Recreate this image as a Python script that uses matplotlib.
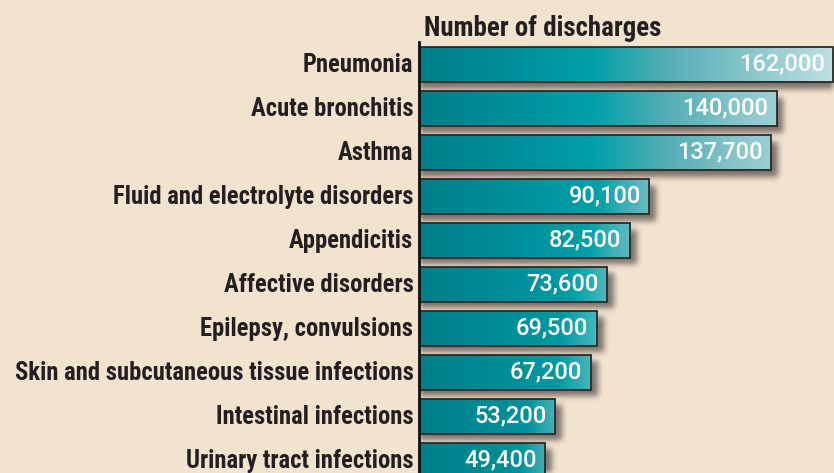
import numpy as np
import matplotlib
matplotlib.use("Agg")
import matplotlib.pyplot as plt
import matplotlib.transforms as mtransforms
from matplotlib import font_manager
from matplotlib.colors import LinearSegmentedColormap, Normalize, to_rgb
from matplotlib.patches import Rectangle

# data
conditions = ['Pneumonia', 'Acute bronchitis', 'Asthma', 'Fluid and electrolyte disorders',
              'Appendicitis', 'Affective disorders', 'Epilepsy, convulsions',
              'Skin and subcutaneous tissue infections', 'Intestinal infections',
              'Urinary tract infections']
discharges = [162000, 140000, 137700, 90100, 82500, 73600, 69500, 67200, 53200, 49400]
axis_title = 'Number of discharges'

W, H = 834, 473
bg = '#f2e3cf'
ink = '#231f20'

# pick a condensed bold face that is installed
names = {f.name for f in font_manager.fontManager.ttflist}
cond = 'DejaVu Sans'
for cand in ['Roboto Condensed', 'Archivo Narrow', 'PT Sans Narrow', 'Liberation Sans Narrow',
             'Barlow Semi Condensed', 'Barlow Condensed', 'Saira SemiCondensed']:
    if cand in names:
        cond = cand
        break
cond_font = [cond, 'DejaVu Sans']

fig = plt.figure(figsize=(W / 100, H / 100), dpi=100, facecolor=bg)
# axes placed in pixels: value 0 at x=419, 162000 at x=833
x0, x1 = 419, W
ax = fig.add_axes([x0 / W, 0, (x1 - x0) / W, 1])
ax.set_facecolor(bg)
px_per_val = (833 - 419) / 162000
xmax = (x1 - x0) / px_per_val
row_px = 44.0
first_px = 64.0
ax.set_xlim(0, xmax)
ax.set_ylim((H - first_px) / row_px, -first_px / row_px)

bar_h = 35 / row_px
ypos = np.arange(len(conditions))

# blurred drop shadow
gx = np.linspace(0, xmax, x1 - x0)
gy = np.linspace(-first_px / row_px, (H - first_px) / row_px, H)
XX, YY = np.meshgrid(gx, gy)
mask = np.zeros_like(XX)
dx = 7 / px_per_val
dy = 7 / row_px
for y, v in zip(ypos, discharges):
    mask[(XX >= 0) & (XX <= v + dx) & (YY >= y - bar_h / 2 + dy) & (YY <= y + bar_h / 2 + dy)] = 1.0
k = np.ones(7) / 7
for _ in range(2):
    mask = np.apply_along_axis(lambda r: np.convolve(r, k, mode='same'), 1, mask)
    mask = np.apply_along_axis(lambda c: np.convolve(c, k, mode='same'), 0, mask)
shadow = np.zeros(mask.shape + (4,))
shadow[..., :3] = np.array([118, 108, 100]) / 255
shadow[..., 3] = mask * 0.95
ax.imshow(shadow, extent=(0, xmax, gy[-1], gy[0]), aspect='auto', zorder=1,
          interpolation='bilinear')

cmap = LinearSegmentedColormap.from_list('teal', [
    (0.0, '#007f8a'), (0.25, '#00919c'), (0.42, '#00a0a8'),
    (0.6, '#55aeb6'), (0.8, '#88c5cb'), (1.0, '#bde0e3')])
norm = Normalize(0, 162000)
hi = np.array(to_rgb('#9fd0d5'))

for y, v in zip(ypos, discharges):
    vals = np.linspace(0, v, 300)
    rgb = cmap(norm(vals))[:, :3]
    # slight highlight toward the end of every bar
    t = np.linspace(0, 1, 300)
    w = 0.45 * np.clip((t - 0.8) / 0.2, 0, 1)[:, None]
    rgb = rgb * (1 - w) + np.maximum(rgb, hi) * w
    im = ax.imshow(rgb[None, :, :], aspect='auto', zorder=2,
                   extent=(0, v, y + bar_h / 2, y - bar_h / 2))
    rect = Rectangle((0, y - bar_h / 2), v, bar_h, facecolor='none',
                     edgecolor='#2a2a2a', linewidth=1.3, zorder=3)
    ax.add_patch(rect)
    im.set_clip_path(rect)
    ax.annotate(f'{v:,}', (v, y), xytext=(-6, 0), textcoords='offset points',
                ha='right', va='center', color='white', fontsize=17,
                fontfamily='Roboto', fontweight='medium', zorder=4)

ax.set_yticks(ypos)
ticklabels = ax.set_yticklabels(conditions, fontsize=16, fontweight='bold', color=ink,
                                fontfamily=cond_font)
ax.tick_params(axis='y', length=0, pad=4)
lift = mtransforms.ScaledTranslation(0, 1.5 / 100, fig.dpi_scale_trans)
for t in ticklabels:
    t.set_transform(t.get_transform() + lift)
ax.set_xticks([])
for s in ['top', 'right', 'bottom']:
    ax.spines[s].set_visible(False)
ax.spines['left'].set_color('#111111')
ax.spines['left'].set_linewidth(2)
ax.spines['left'].set_bounds(-0.5, 20)
ax.spines['left'].set_zorder(5)

title = fig.text(424 / W, 1 - 36 / H, axis_title, fontsize=18, fontweight='bold',
                 color=ink, fontfamily=cond_font, va='baseline', ha='left')

# scale the fonts so the widths match the reference
fig.canvas.draw()
r = fig.canvas.get_renderer()
widest = max(t.get_window_extent(r).width for t in ticklabels)
for t in ticklabels:
    t.set_fontsize(16 * 397 / widest)
title.set_fontsize(18 * 238 / title.get_window_extent(r).width)

fig.savefig('out.png', dpi=100, facecolor=bg)
